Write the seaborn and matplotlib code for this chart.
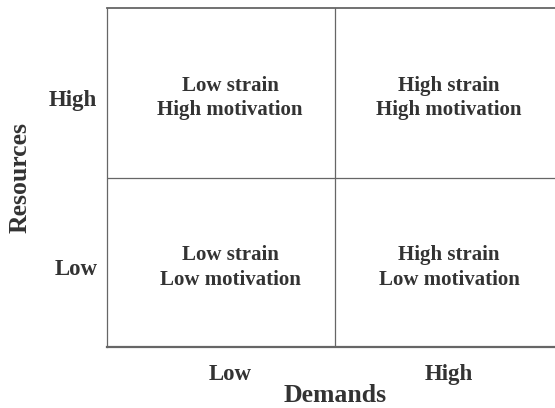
import matplotlib
matplotlib.use('Agg')
import matplotlib.pyplot as plt
import seaborn as sns

# quadrant content
demand_levels = ['Low', 'High']
resource_levels = ['Low', 'High']
strain_labels = ['Low strain', 'High strain']            # by demand level
motivation_labels = ['Low motivation', 'High motivation']  # by resource level

sns.set_theme(style='white')
plt.rcParams['font.family'] = ['Liberation Serif', 'DejaVu Serif']
TEXT = '#333333'
LINE = '#666666'

fig = plt.figure(figsize=(5.55, 4.08), dpi=100)
ax = fig.add_axes([107 / 555, 61 / 408, 456 / 555, 339 / 408])
ax.set_xlim(0, 2)
ax.set_ylim(0, 2)

# column / row centres (text sits a little off the exact cell centre)
col_pos = [0.54, 1.5]
row_pos = [0.47, 1.47]

# dividing lines
ax.axvline(1, color=LINE, linewidth=0.9)
ax.axhline(1, color=LINE, linewidth=0.9)

for i, d in enumerate(demand_levels):
    for j, r in enumerate(resource_levels):
        ax.text(col_pos[i], row_pos[j], strain_labels[i] + '\n' + motivation_labels[j],
                ha='center', va='center', fontsize=15, fontweight='bold',
                color=TEXT, linespacing=1.3)

ax.set_xticks(col_pos)
ax.set_xticklabels(demand_levels, fontsize=16.5, fontweight='bold', color=TEXT)
ax.set_yticks(row_pos)
ax.set_yticklabels(resource_levels, fontsize=16.5, fontweight='bold', color=TEXT)
ax.tick_params(axis='x', length=0, pad=12)
ax.tick_params(axis='y', length=0, pad=7)

ax.set_xlabel('Demands', fontsize=18.5, fontweight='bold', color=TEXT)
ax.set_ylabel('Resources', fontsize=18.5, fontweight='bold', color=TEXT)
ax.xaxis.set_label_coords(0.5, -0.142)
ax.yaxis.set_label_coords(-0.19, 0.5)
ax.xaxis.label.set_va('center')
ax.yaxis.label.set_va('center')

for side, lw in [('bottom', 1.6), ('top', 1.3), ('left', 0.9), ('right', 0.9)]:
    ax.spines[side].set_color(LINE)
    ax.spines[side].set_linewidth(lw)

fig.savefig('out.png', dpi=100)
